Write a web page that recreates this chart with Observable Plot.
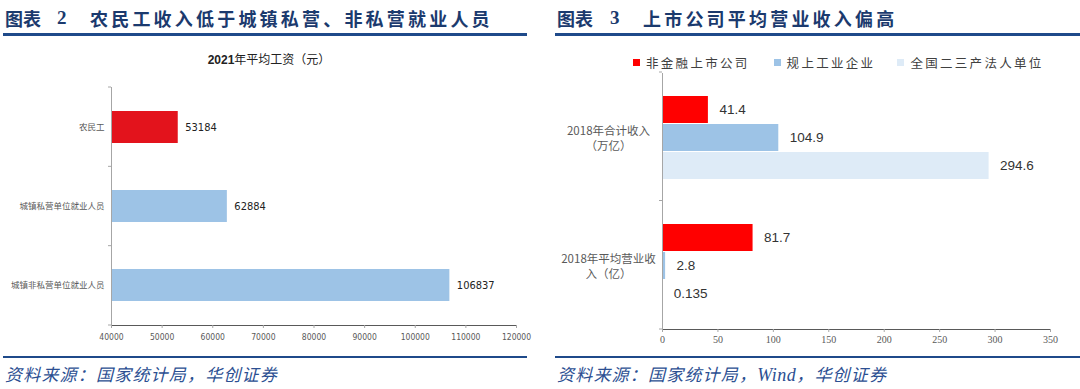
<!DOCTYPE html>
<html>
<head>
<meta charset="utf-8">
<script src="https://cdn.jsdelivr.net/npm/d3@7"></script>
<script src="https://cdn.jsdelivr.net/npm/@observablehq/plot@0.6"></script>
<style>
html, body { margin: 0; padding: 0; background: #fff; }
#root { position: relative; width: 1080px; height: 389px; overflow: hidden; font-family: "Noto Sans CJK SC", sans-serif; }
.abs { position: absolute; white-space: nowrap; }
.hdr { font-size: 18px; font-weight: 700; color: #1b3a6e; line-height: 18px; }
.hdr.t { letter-spacing: 3.2px; }
.bar { position: absolute; background: #1f4a8a; height: 2.5px; }
.src { font-size: 17px; font-style: italic; color: #2c4f92; line-height: 18px; letter-spacing: 1.2px; }
.ctitle { font-size: 12px; color: #222; line-height: 12px; }
.legend { font-size: 12.5px; color: #404040; letter-spacing: 2.3px; line-height: 13px; display: flex; align-items: center; }
.legend .sw { width: 7px; height: 7px; margin-right: 6px; }
.legend .it { display: flex; align-items: center; }
#left svg [aria-label^="x-axis"] text { font-size: 8.5px; font-family: "Liberation Sans Narrow", "DejaVu Sans Condensed", sans-serif; fill: #595959; }
#left svg [aria-label^="y-axis"] text { font-size: 8.5px; font-family: "Noto Sans CJK SC", sans-serif; fill: #595959; }
#right svg [aria-label^="x-axis"] text { font-size: 10px; font-family: "Liberation Serif", serif; fill: #595959; }
svg [aria-label^="x-axis"] path, svg [aria-label^="x-axis"] line { stroke: #a6a6a6; }
</style>
</head>
<body>
<div id="root"></div>
<script>
// ---------- data ----------
const leftCategories = ["农民工", "城镇私营单位就业人员", "城镇非私营单位就业人员"];
const leftValues = [53184, 62884, 106837];
const leftColors = ["#e3131c", "#9dc3e6", "#9dc3e6"];
const leftTicks = [40000, 50000, 60000, 70000, 80000, 90000, 100000, 110000, 120000];

const rightGroups = ["2018年合计收入\n（万亿）", "2018年平均营业收\n入（亿）"];
const rightSeries = ["非金融上市公司", "规上工业企业", "全国二三产法人单位"];
const rightColors = ["#ff0000", "#9dc3e6", "#deebf7"];
const rightValuesTotal = [41.4, 104.9, 294.6];
const rightValuesAverage = [81.7, 2.8, 0.135];
const rightTicks = [0, 50, 100, 150, 200, 250, 300, 350];

const root = document.getElementById("root");
function addDiv(cls, css, html) {
  const d = document.createElement("div");
  d.className = cls;
  Object.assign(d.style, css);
  if (html != null) d.innerHTML = html;
  root.appendChild(d);
  return d;
}

// ---------- headers / footers ----------
addDiv("abs hdr", {left: "5px", top: "9px"}, "图表");
addDiv("abs hdr", {left: "57px", top: "9px", fontFamily: "'Liberation Serif', serif", fontSize: "19px"}, "2");
addDiv("abs hdr t", {left: "90px", top: "9px"}, "农民工收入低于城镇私营、非私营就业人员");
addDiv("bar", {left: "3px", top: "33px", width: "524px"});

addDiv("abs hdr", {left: "557px", top: "9px"}, "图表");
addDiv("abs hdr", {left: "610px", top: "9px", fontFamily: "'Liberation Serif', serif", fontSize: "19px"}, "3");
addDiv("abs hdr t", {left: "643px", top: "9px"}, "上市公司平均营业收入偏高");
addDiv("bar", {left: "555px", top: "33px", width: "525px"});

addDiv("bar", {left: "3px", top: "355.5px", width: "524px"});
addDiv("bar", {left: "555px", top: "355.5px", width: "525px"});
addDiv("abs src", {left: "5px", top: "365px"}, "资料来源：国家统计局，华创证券");
addDiv("abs src", {left: "557px", top: "365px"}, "资料来源：国家统计局，<span style=\"font-family:'Liberation Serif',serif;font-size:18px;letter-spacing:0.5px\">Wind</span>，华创证券");

// chart title (left)
addDiv("abs ctitle", {left: "269px", top: "53px", transform: "translateX(-50%)"},
  "<b style=\"font-family:'Liberation Sans',sans-serif\">2021</b>年平均工资（元）");

// legend (right)
const lg = addDiv("abs legend", {left: "633px", top: "56px"});
rightSeries.forEach((s, i) => {
  const it = document.createElement("div");
  it.className = "it";
  if (i > 0) it.style.marginLeft = (i === 1 ? "24px" : "22px");
  it.innerHTML = `<span class="sw" style="background:${rightColors[i]}"></span><span>${s}</span>`;
  lg.appendChild(it);
});

const narrow = "'Liberation Sans Narrow', 'DejaVu Sans Condensed', sans-serif";

// ---------- left chart ----------
const leftData = leftCategories.map((c, i) => ({cat: c, value: leftValues[i], color: leftColors[i]}));
const left = Plot.plot({
  width: 540, height: 310,
  marginLeft: 111, marginRight: 24, marginTop: 47, marginBottom: 25,
  style: {background: "transparent", fontFamily: "'Noto Sans CJK SC', sans-serif", color: "#595959", overflow: "visible"},
  x: {domain: [40000, 120000], ticks: leftTicks, tickFormat: d => String(d), tickSize: 3, tickPadding: 5, line: true, label: null},
  y: {domain: leftCategories, paddingInner: 0.6, paddingOuter: 0.3, tickSize: 0, tickPadding: 7, label: null},
  color: {type: "identity"},
  marks: [
    Plot.barX(leftData, {x1: 40000, x2: "value", y: "cat", fill: "color"}),
    Plot.ruleX([40000], {stroke: "#a6a6a6"}),
    Plot.text(leftData, {x: "value", y: "cat", text: d => String(d.value), dx: 7, textAnchor: "start",
      fill: "#222", fontSize: 11, fontFamily: narrow})
  ]
});
const lwrap = addDiv("abs", {left: "0px", top: "40px"});
lwrap.id = "left";
lwrap.appendChild(left);

// ---------- right chart ----------
const rightData = [];
rightGroups.forEach((g, gi) => {
  const vals = gi === 0 ? rightValuesTotal : rightValuesAverage;
  rightSeries.forEach((s, si) => rightData.push({group: g, series: s, value: vals[si], color: rightColors[si]}));
});
const right = Plot.plot({
  width: 530, height: 310,
  marginLeft: 112, marginRight: 30, marginTop: 32, marginBottom: 21,
  style: {background: "transparent", fontFamily: "'Noto Sans CJK SC', sans-serif", color: "#595959", overflow: "visible"},
  x: {domain: [0, 350], ticks: rightTicks, tickSize: 3, tickPadding: 3, line: true, label: null},
  y: {domain: rightSeries, axis: null, paddingInner: 0.04, paddingOuter: 0.8},
  fy: {domain: rightGroups, axis: null, padding: 0},
  color: {type: "identity"},
  marks: [
    Plot.barX(rightData, {x1: 0, x2: "value", y: "series", fy: "group", fill: "color"}),
    Plot.text(rightData, {x: "value", y: "series", fy: "group", text: d => String(d.value), dx: 11, textAnchor: "start",
      fill: "#333", fontSize: 13.5, fontFamily: "'Liberation Sans', sans-serif"}),
    Plot.text(rightGroups, {fy: d => d, text: d => d, frameAnchor: "left", dx: -54, textAnchor: "middle",
      lineHeight: 1.3, fontSize: 11.5, fill: "#595959"}),
    Plot.ruleX([0], {stroke: "#a6a6a6"})
  ]
});
const rwrap = addDiv("abs", {left: "550px", top: "40px"});
rwrap.id = "right";
rwrap.appendChild(right);

// ---------- band-boundary ticks on category axes ----------
function boundaryTicks(svgNode, bandScale, xPix) {
  const [r0, r1] = bandScale.range;
  const n = bandScale.domain.length;
  const step = (r1 - r0) / n;
  const ys = d3.range(n + 1).map(i => r0 + i * step);
  d3.select(svgNode).append("g").attr("stroke", "#a6a6a6")
    .selectAll("line").data(ys).join("line")
    .attr("x1", xPix - 3).attr("x2", xPix).attr("y1", d => d).attr("y2", d => d);
}
boundaryTicks(left, left.scale("y"), left.scale("x").apply(40000));
boundaryTicks(right, right.scale("fy"), right.scale("x").apply(0));
</script>
</body>
</html>
